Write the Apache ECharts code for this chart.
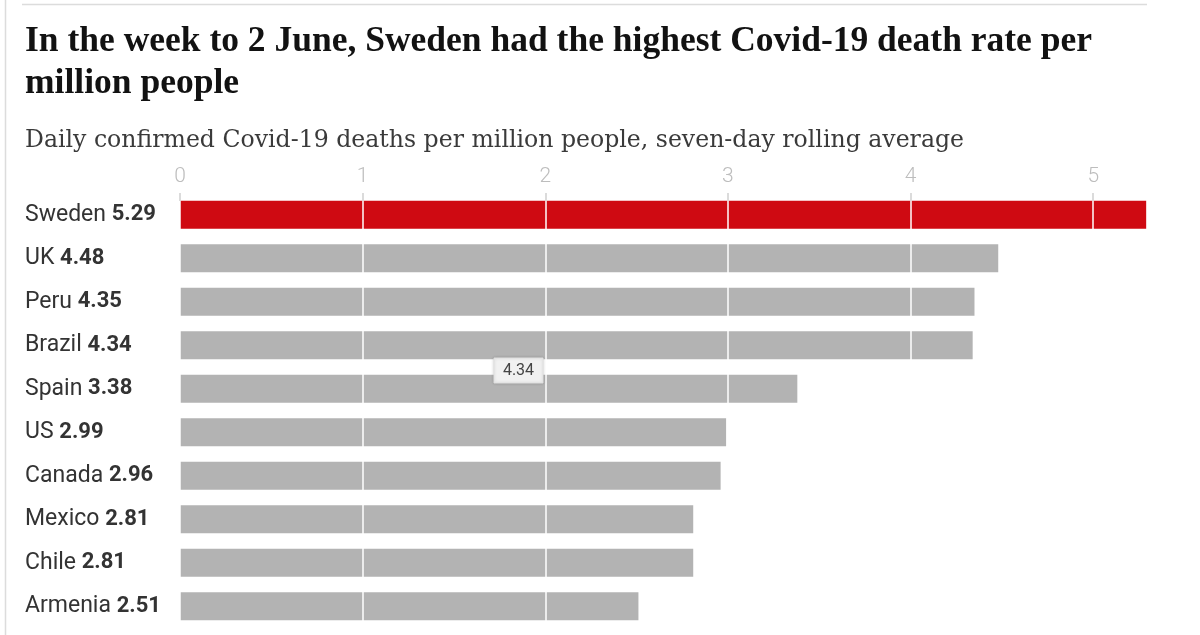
<!DOCTYPE html>
<html><head><meta charset="utf-8">
<script src="https://cdn.jsdelivr.net/npm/echarts@6/dist/echarts.min.js"></script>
<style>html,body{margin:0;padding:0;background:#fff}#c{width:1200px;height:635px}</style>
</head><body><div id="c"></div>
<script>
const countries = ['Sweden','UK','Peru','Brazil','Spain','US','Canada','Mexico','Chile','Armenia'];
const deathRates = [5.29,4.48,4.35,4.34,3.38,2.99,2.96,2.81,2.81,2.51];
const xTicks = [0,1,2,3,4,5];
const highlightCountry = 'Sweden';
const tooltipText = '4.34';
const titleText = 'In the week to 2 June, Sweden had the highest Covid-19 death rate per\nmillion people';
const subtitleText = 'Daily confirmed Covid-19 deaths per million people, seven-day rolling average';

const chart = echarts.init(document.getElementById('c'));
chart.setOption({
  animation: false,
  backgroundColor: '#fff',
  title: [
    { text: titleText, left: 25, top: 21, padding: 0,
      textStyle: { fontFamily: 'Liberation Serif', fontWeight: 'bold', fontSize: 35.5, lineHeight: 42, color: '#121212' } },
    { text: subtitleText, left: 25, top: 126, padding: 0,
      textStyle: { fontFamily: 'DejaVu Serif', fontWeight: 'normal', fontSize: 23.6, lineHeight: 30, color: '#3a3a3a' } }
  ],
  grid: { left: 180, right: 52, top: 193, bottom: 7, containLabel: false },
  xAxis: {
    type: 'value', position: 'top', min: 0, max: 5.3, interval: 1, z: 5,
    axisLine: { show: false },
    axisTick: { show: true, inside: true, length: 8, customValues: xTicks, lineStyle: { color: '#cfcfcf', width: 1.5 } },
    axisLabel: { customValues: xTicks, color: '#bdbdbd', fontSize: 21, fontFamily: 'Roboto', fontWeight: 300, margin: 6 },
    splitLine: { show: true, lineStyle: { color: 'rgba(255,255,255,0.75)', width: 2 } }
  },
  yAxis: {
    type: 'category', data: countries, inverse: true,
    axisLine: { show: false }, axisTick: { show: false },
    axisLabel: {
      align: 'left', margin: 155,
      formatter: (v, i) => '{n|' + v + ' }{b|' + deathRates[i].toFixed(2) + '}',
      rich: {
        n: { fontFamily: 'Roboto', fontSize: 23, color: '#333' },
        b: { fontFamily: 'Roboto', fontSize: 22, fontWeight: 'bold', color: '#333' }
      }
    }
  },
  series: [{
    type: 'bar', barWidth: 28, z: 2,
    data: deathRates.map((v, i) => ({ value: v, itemStyle: { color: countries[i] === highlightCountry ? '#cf0a12' : '#b3b3b3' } }))
  }],
  graphic: [
    { type: 'line', shape: { x1: 22, y1: 4.5, x2: 1147, y2: 4.5 }, style: { stroke: '#dcdcdc', lineWidth: 1.5 } },
    { type: 'line', shape: { x1: 5.5, y1: 0, x2: 5.5, y2: 635 }, style: { stroke: '#dcdcdc', lineWidth: 1.5 } },
    { type: 'rect', z: 100, shape: { x: 494, y: 358, width: 49, height: 25 },
      style: { fill: '#f1f1f1', stroke: '#e0e0e0', lineWidth: 1, shadowBlur: 3, shadowColor: 'rgba(0,0,0,0.15)' } },
    { type: 'text', z: 101, x: 518.5, y: 370.5,
      style: { text: tooltipText, fill: '#444', fontSize: 16, fontFamily: 'Roboto', align: 'center', verticalAlign: 'middle' } }
  ]
});
</script></body></html>
